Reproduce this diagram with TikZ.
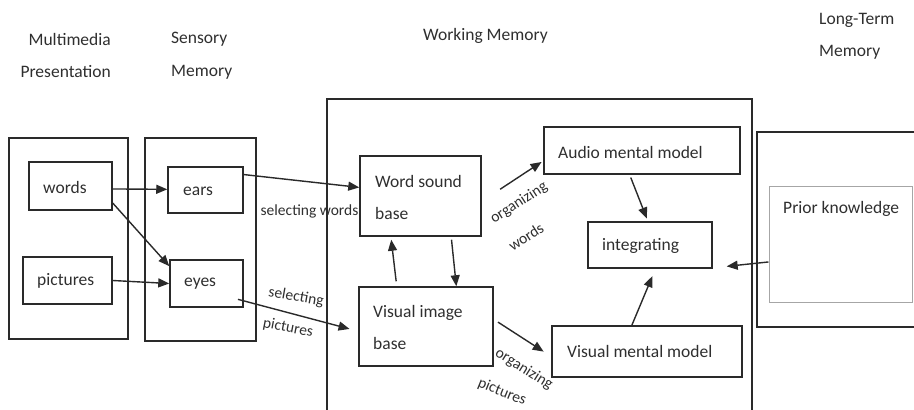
\documentclass[tikz,border=0pt]{standalone}
\usepackage{fontspec}
\setmainfont{Carlito}
\usetikzlibrary{arrows.meta}
\definecolor{lc}{HTML}{2A2A2A}
\definecolor{tc}{HTML}{2F2F2F}
\tikzset{
  box/.style={draw=lc, line width=1.5pt, rectangle, inner sep=0pt},
  lightbox/.style={draw=black!35, line width=1pt, rectangle, inner sep=0pt},
  txt/.style={text=tc, font=\fontsize{17.5}{32}\selectfont, inner sep=0pt, align=left},
  lbl/.style={text=tc, font=\fontsize{15.5}{20}\selectfont, inner sep=0pt},
  arr/.style={draw=lc, line width=1.4pt, -{Triangle[length=11pt,width=9pt]}}
}
\begin{document}
\begin{tikzpicture}[x=1pt,y=-1pt]
\useasboundingbox (0,0) rectangle (914,410);
\clip (0,0) rectangle (914,410);

% headings
\node[txt, anchor=east] (h1a) at (111,39) {Multimedia};
\node[txt, anchor=east] (h1b) at (111,72) {Presentation};
\node[txt, anchor=west] (h2a) at (171,39) {Sensory};
\node[txt, anchor=west] (h2b) at (171,72) {Memory};
\node[txt, anchor=west] (h3) at (423,36) {Working Memory};
\node[txt, anchor=west] (h4a) at (819,20) {Long-Term};
\node[txt, anchor=west] (h4b) at (819,52) {Memory};

% containers
\node[box, minimum width=119, minimum height=201] (mm) at (68.5,238.5) {};
\node[box, minimum width=111, minimum height=203] (sm) at (200.5,239.5) {};
\node[box, minimum width=425, minimum height=340] (wm) at (539.5,269) {};
\node[box, minimum width=200, minimum height=195] (ltm) at (857,229.5) {};

% inner boxes
\node[box, minimum width=83, minimum height=48] (words) at (70.5,186) {};
\node[txt, anchor=west] (wordsT) at (43,187) {words};
\node[box, minimum width=89, minimum height=47] (pics) at (67.5,280.5) {};
\node[txt, anchor=west] (picsT) at (37,281) {pictures};
\node[box, minimum width=75, minimum height=46] (ears) at (205.5,190) {};
\node[txt, anchor=west] (earsT) at (183,191) {ears};
\node[box, minimum width=73, minimum height=47] (eyes) at (206.5,283.5) {};
\node[txt, anchor=west] (eyesT) at (184,284) {eyes};

\node[box, minimum width=121, minimum height=80] (wsb) at (420.5,196) {};
\node[txt, anchor=west] (wsbT) at (375,197) {Word sound\\base};
\node[box, minimum width=134, minimum height=79] (vib) at (426,326.5) {};
\node[txt, anchor=west] (vibT) at (373,327) {Visual image\\base};
\node[box, minimum width=196, minimum height=47] (amm) at (642,150.5) {};
\node[txt, anchor=west] (ammT) at (558,152) {Audio mental model};
\node[box, minimum width=124, minimum height=46] (integ) at (650,245) {};
\node[txt, anchor=west] (integT) at (602,246) {integrating};
\node[box, minimum width=190, minimum height=51] (vmm) at (647,351.5) {};
\node[txt, anchor=west] (vmmT) at (567,351) {Visual mental model};
\node[lightbox, minimum width=143, minimum height=116] (prior) at (840.5,244) {};
\node[txt, anchor=west] (priorT) at (783,209) {Prior knowledge};

% connectors
\draw[arr] (words.-4) -- (ears.179);
\draw[arr] (words.-22) -- (eyes.155);
\draw[arr] (pics.east) -- (eyes.west);
\draw[arr] (ears.22) -- (wsb.172);
\draw[arr, shorten <=-6pt, shorten >=9pt] (eyes.-25) -- (vib.184);
\draw[arr, shorten <=5pt, shorten >=3pt] (vib.126) -- (wsb.234);
\draw[arr, shorten <=3pt] (wsb.-53) -- (vib.53);
\draw[arr, shorten <=22pt, shorten >=2pt] (wsb.-5) -- (amm.186);
\draw[arr, shorten <=5pt, shorten >=9pt] (vib.6) -- (vmm.183);
\draw[arr, shorten <=3pt, shorten >=3pt] (amm.243) -- (integ.95);
\draw[arr, shorten >=8pt] (vmm.120) -- (integ.-77);
\draw[arr, shorten >=14pt] (prior.194) -- (integ.-20);

% connector labels
\node[lbl] (l1) at (309.5,211) {selecting words};
\node[lbl, rotate=-10] (l2) at (296,297) {selecting};
\node[lbl, rotate=-11] (l3) at (288,328) {pictures};
\node[lbl, rotate=33] (l4) at (519,203) {organizing};
\node[lbl, rotate=33] (l5) at (526,237) {words};
\node[lbl, rotate=-32] (l6) at (524,369) {organizing};
\node[lbl, rotate=-22] (l7) at (502,392) {pictures};
\end{tikzpicture}
\end{document}
